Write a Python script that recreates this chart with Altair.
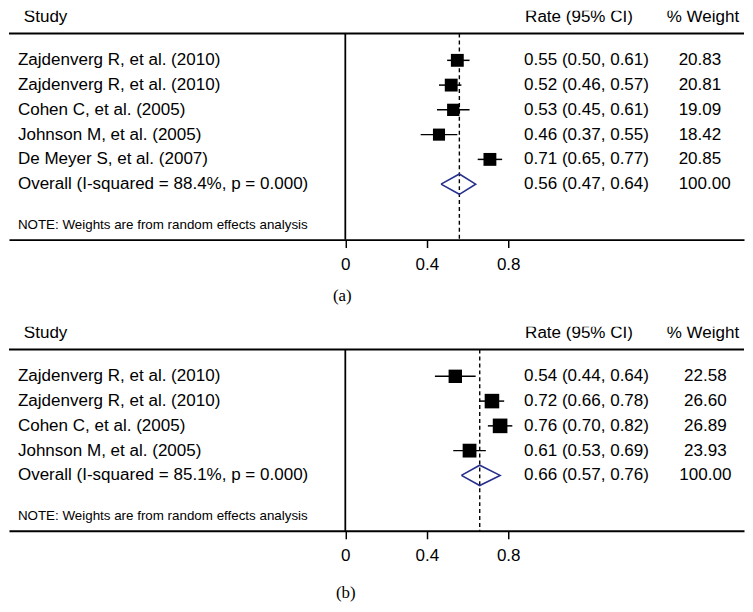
import altair as alt
import pandas as pd

# ---------------- data ----------------
a_studies = ["Zajdenverg R, et al. (2010)", "Zajdenverg R, et al. (2010)",
             "Cohen C, et al. (2005)", "Johnson M, et al. (2005)",
             "De Meyer S, et al. (2007)"]
a_est = [0.55, 0.52, 0.53, 0.46, 0.71]
a_lo = [0.50, 0.46, 0.45, 0.37, 0.65]
a_hi = [0.61, 0.57, 0.61, 0.55, 0.77]
a_wt = [20.83, 20.81, 19.09, 18.42, 20.85]
a_overall = [0.56, 0.47, 0.64]
a_overall_label = "Overall (I-squared = 88.4%, p = 0.000)"

b_studies = ["Zajdenverg R, et al. (2010)", "Zajdenverg R, et al. (2010)",
             "Cohen C, et al. (2005)", "Johnson M, et al. (2005)"]
b_est = [0.54, 0.72, 0.76, 0.61]
b_lo = [0.44, 0.66, 0.70, 0.53]
b_hi = [0.64, 0.78, 0.82, 0.69]
b_wt = [22.58, 26.60, 26.89, 23.93]
b_overall = [0.66, 0.57, 0.76]
b_overall_label = "Overall (I-squared = 85.1%, p = 0.000)"

x_ticks = [0, 0.4, 0.8]
headers = ["Study", "Rate (95% CI)", "% Weight"]
note = "NOTE: Weights are from random effects analysis"

# ---------------- layout / style ----------------
W = 742
ROW = 25
FONT = "Liberation Sans"
FS = 17.2
NAVY = "#262f8c"
XDOM = [-1.6513, 1.9576]


def panel(studies, est, lo, hi, wt, overall, overall_label, tag,
          title_x, title_y, wt_x, wt_align):
    n = len(studies)
    H = 50 + ROW * n + 56
    ydom = [1 - 50 / ROW, 1 + (H - 50) / ROW]
    yscale = alt.Scale(domain=ydom, reverse=True, nice=False, zero=False)
    xscale = alt.Scale(domain=XDOM, nice=False, zero=False)
    xaxis = alt.Axis(values=x_ticks, format="~g", grid=False,
                     domainColor="black", domainWidth=2,
                     tickColor="black", tickWidth=1.5, tickSize=8,
                     labelFont=FONT, labelFontSize=FS, labelColor="black",
                     labelPadding=8, title=tag, titleFont="Liberation Serif",
                     titleFontSize=17, titleFontWeight="normal",
                     titleColor="black", titleX=title_x, titleY=title_y,
                     titleBaseline="middle", titleAlign="center")

    def X(field):
        return alt.X(field, type="quantitative", scale=xscale, axis=xaxis)

    def Y(field):
        return alt.Y(field, type="quantitative", scale=yscale, axis=None)

    rows = pd.DataFrame({"study": studies, "est": est, "lo": lo, "hi": hi,
                         "wt": wt, "row": list(range(1, n + 1))})
    labels = pd.DataFrame({
        "study": studies + [overall_label],
        "rate": [f"{e:.2f} ({l:.2f}, {h:.2f})" for e, l, h in zip(est, lo, hi)]
                + [f"{overall[0]:.2f} ({overall[1]:.2f}, {overall[2]:.2f})"],
        "wtxt": [f"{w:.2f}" for w in wt] + ["100.00"],
        "row": list(range(1, n + 2)),
    })
    orow = n + 1
    diamond = pd.DataFrame({
        "x": [overall[1], overall[0], overall[2], overall[0], overall[1]],
        "row": [orow, orow - 0.41, orow, orow + 0.41, orow],
        "ord": [0, 1, 2, 3, 4],
    })
    vlines = pd.DataFrame({"x": [0.0]})
    dline = pd.DataFrame({"x": [overall[0]]})
    one = pd.DataFrame({"k": [0]})

    base_rule = alt.Chart(vlines).mark_rule(color="black", strokeWidth=1.8).encode(
        x=X("x"), y=alt.value(23), y2=alt.value(H))
    dash = alt.Chart(dline).mark_rule(color="black", strokeWidth=1.4,
                                      strokeDash=[4, 3]).encode(
        x=X("x"), y=alt.value(23), y2=alt.value(H))
    topline = alt.Chart(one).mark_rule(color="black", strokeWidth=2).encode(
        x=alt.value(0), x2=alt.value(W), y=alt.value(23))
    ci = alt.Chart(rows).mark_rule(color="black", strokeWidth=1.5).encode(
        x=X("lo"), x2="hi", y=Y("row"))
    sq = alt.Chart(rows).mark_square(color="black", filled=True, opacity=1).encode(
        x=X("est"), y=Y("row"),
        size=alt.Size("wt:Q", scale=alt.Scale(domain=[0, 30], range=[0, 243]),
                      legend=None))
    dia = alt.Chart(diamond).mark_line(color=NAVY, strokeWidth=1.6,
                                       strokeJoin="miter").encode(
        x=X("x"), y=Y("row"), order="ord:Q")

    def txt(df, field, xpx, align="left", size=FS, font=FONT):
        return alt.Chart(df).mark_text(align=align, baseline="middle",
                                       font=font, fontSize=size,
                                       color="black").encode(
            x=alt.value(xpx), y=Y("row"), text=f"{field}:N")

    t_study = txt(labels, "study", 9)
    t_rate = txt(labels, "rate", 520)
    t_wt = txt(labels, "wtxt", wt_x, align=wt_align)

    hdr_x = [15, 521, 664]
    hdrs = [alt.Chart(pd.DataFrame({"h": [h]})).mark_text(
        align="left", baseline="middle", font=FONT, fontSize=FS,
        color="black", clip=True).encode(x=alt.value(xp), y=alt.value(6),
                                         text="h:N")
        for h, xp in zip(headers, hdr_x)]
    t_note = alt.Chart(pd.DataFrame({"t": [note]})).mark_text(
        align="left", baseline="middle", font=FONT, fontSize=13.5,
        color="black").encode(x=alt.value(9), y=alt.value(H - 15), text="t:N")

    return alt.layer(base_rule, dash, topline, ci, sq, dia,
                     t_study, t_rate, t_wt, *hdrs, t_note).properties(
        width=W, height=H)


pa = panel(a_studies, a_est, a_lo, a_hi, a_wt, a_overall, a_overall_label,
           "(a)", 336, 56, 676, "left")
pb = panel(b_studies, b_est, b_lo, b_hi, b_wt, b_overall, b_overall_label,
           "(b)", 339.5, 62.5, 703, "center")

chart = alt.vconcat(pa, pb, spacing=24).properties(padding=0).configure_view(
    stroke=None)

chart.save("out.html", embed_options={"renderer": "svg", "actions": False})
